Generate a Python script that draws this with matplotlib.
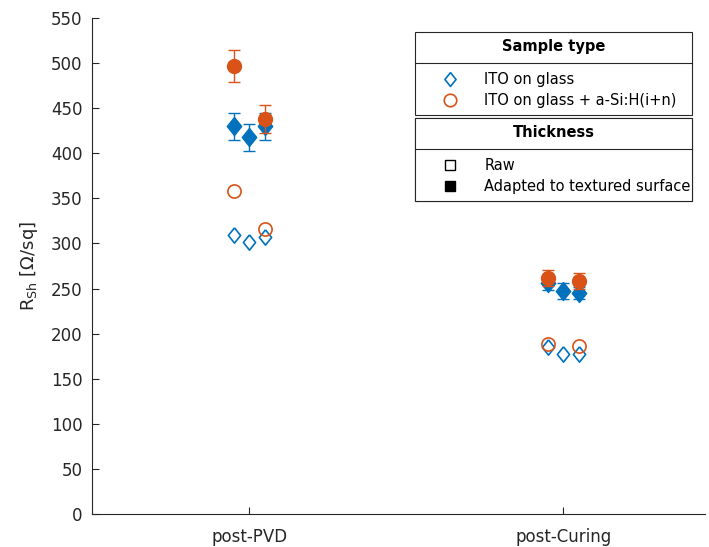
import numpy as np
import matplotlib.pyplot as plt
from matplotlib.lines import Line2D

plt.rcParams['font.family'] = ['DejaVu Sans']
plt.rcParams['mathtext.fontset'] = 'dejavusans'

stages = ['post-PVD', 'post-Curing']
offsets = [-0.05, 0.0, 0.05]

# ITO on glass (3 samples per stage)
glass_raw = [[309, 302, 307], [185, 178, 177]]
glass_adj = [[430, 418, 430], [256, 247, 245]]
glass_err = [[15, 15, 15], [8, 9, 7]]

# ITO on glass + a-Si:H(i+n) (samples 1 and 3)
asi_pos = [0, 2]
asi_raw = [[358, 316], [189, 186]]
asi_adj = [[497, 438], [262, 258]]
asi_err = [[18, 16], [9, 9]]

blue = '#0072BD'
orange = '#D95319'
axcol = '#262626'
diamond = [(0, 1), (0.8, 0), (0, -1), (-0.8, 0), (0, 1)]

fig = plt.figure(figsize=(7.09, 5.47), dpi=100)
ax = fig.add_axes([0.130, 0.0603, 0.864, 0.9067])

for i in range(len(stages)):
    xs = np.array([i + 1 + o for o in offsets])
    ax.errorbar(xs, glass_adj[i], yerr=glass_err[i], fmt='none', ecolor=blue,
                capsize=4.5, elinewidth=1, capthick=1, zorder=3)
    ax.plot(xs, glass_adj[i], marker=diamond, color=blue, ms=13,
            ls='none', zorder=3)
    ax.plot(xs, glass_raw[i], marker=diamond, mfc='white', mec=blue, ms=11,
            mew=1.2, ls='none', zorder=3)
    xa = xs[asi_pos]
    ax.errorbar(xa, asi_adj[i], yerr=asi_err[i], fmt='o', color=orange,
                ms=10, capsize=4.5, elinewidth=1, capthick=1, zorder=4)
    ax.plot(xa, asi_raw[i], 'o', mfc='none', mec=orange, ms=9.5, mew=1.2,
            ls='none', zorder=4)

ax.set_xlim(0.5, 2.45)
ax.set_ylim(0, 550)
ax.set_xticks([1, 2])
ax.set_xticklabels(stages)
ax.set_yticks(np.arange(0, 551, 50))
ax.tick_params(direction='in', length=5, colors=axcol, labelsize=12, pad=7)
ax.tick_params(axis='x', pad=10)
ax.spines['top'].set_visible(False)
ax.spines['right'].set_visible(False)
for s in ['left', 'bottom']:
    ax.spines[s].set_color(axcol)
    ax.spines[s].set_linewidth(0.8)
ax.set_ylabel(r'R$_{\mathrm{Sh}}$ [$\Omega$/sq]', fontsize=13, color=axcol,
              labelpad=8)

h1 = [Line2D([], [], marker=diamond, mfc='white', mec=blue, ms=10, mew=1.2, ls='none'),
      Line2D([], [], marker='o', mfc='white', mec=orange, ms=9, mew=1.2, ls='none')]
h2 = [Line2D([], [], marker='s', mfc='white', mec='black', ms=7, mew=1, ls='none'),
      Line2D([], [], marker='s', mfc='black', mec='black', ms=7, mew=1, ls='none')]

legs = []
for handles, labels, title, top in [
        (h1, ['ITO on glass', 'ITO on glass + a-Si:H(i+n)'], 'Sample type', 0.9718),
        (h2, ['Raw', 'Adapted to textured surface'], 'Thickness', 0.798)]:
    lg = ax.legend(handles, labels, title=title, loc='upper left',
                   bbox_to_anchor=(0.527, top, 0.452, 0.0), mode='expand',
                   fancybox=False, edgecolor=axcol, framealpha=1, fontsize=10.5,
                   title_fontproperties={'weight': 'bold', 'size': 10.5},
                   handlelength=3.9, handletextpad=0.4, borderaxespad=0,
                   labelspacing=0.45, borderpad=0.45)
    lg.get_frame().set_linewidth(0.8)
    lg._legend_box.sep = 13
    ax.add_artist(lg)
    legs.append(lg)

# separator line under each legend title
fig.canvas.draw()
inv = fig.transFigure.inverted()
for lg in legs:
    box = lg.get_window_extent()
    tb = lg.get_title().get_window_extent()
    t0 = lg.get_texts()[0].get_window_extent()
    yline = (tb.y0 + t0.y1) / 2
    (x0, y0) = inv.transform((box.x0, yline))
    (x1, _) = inv.transform((box.x1, yline))
    fig.add_artist(Line2D([x0, x1], [y0, y0], color=axcol, lw=0.8, zorder=10))

fig.savefig('out.png', dpi=100)
